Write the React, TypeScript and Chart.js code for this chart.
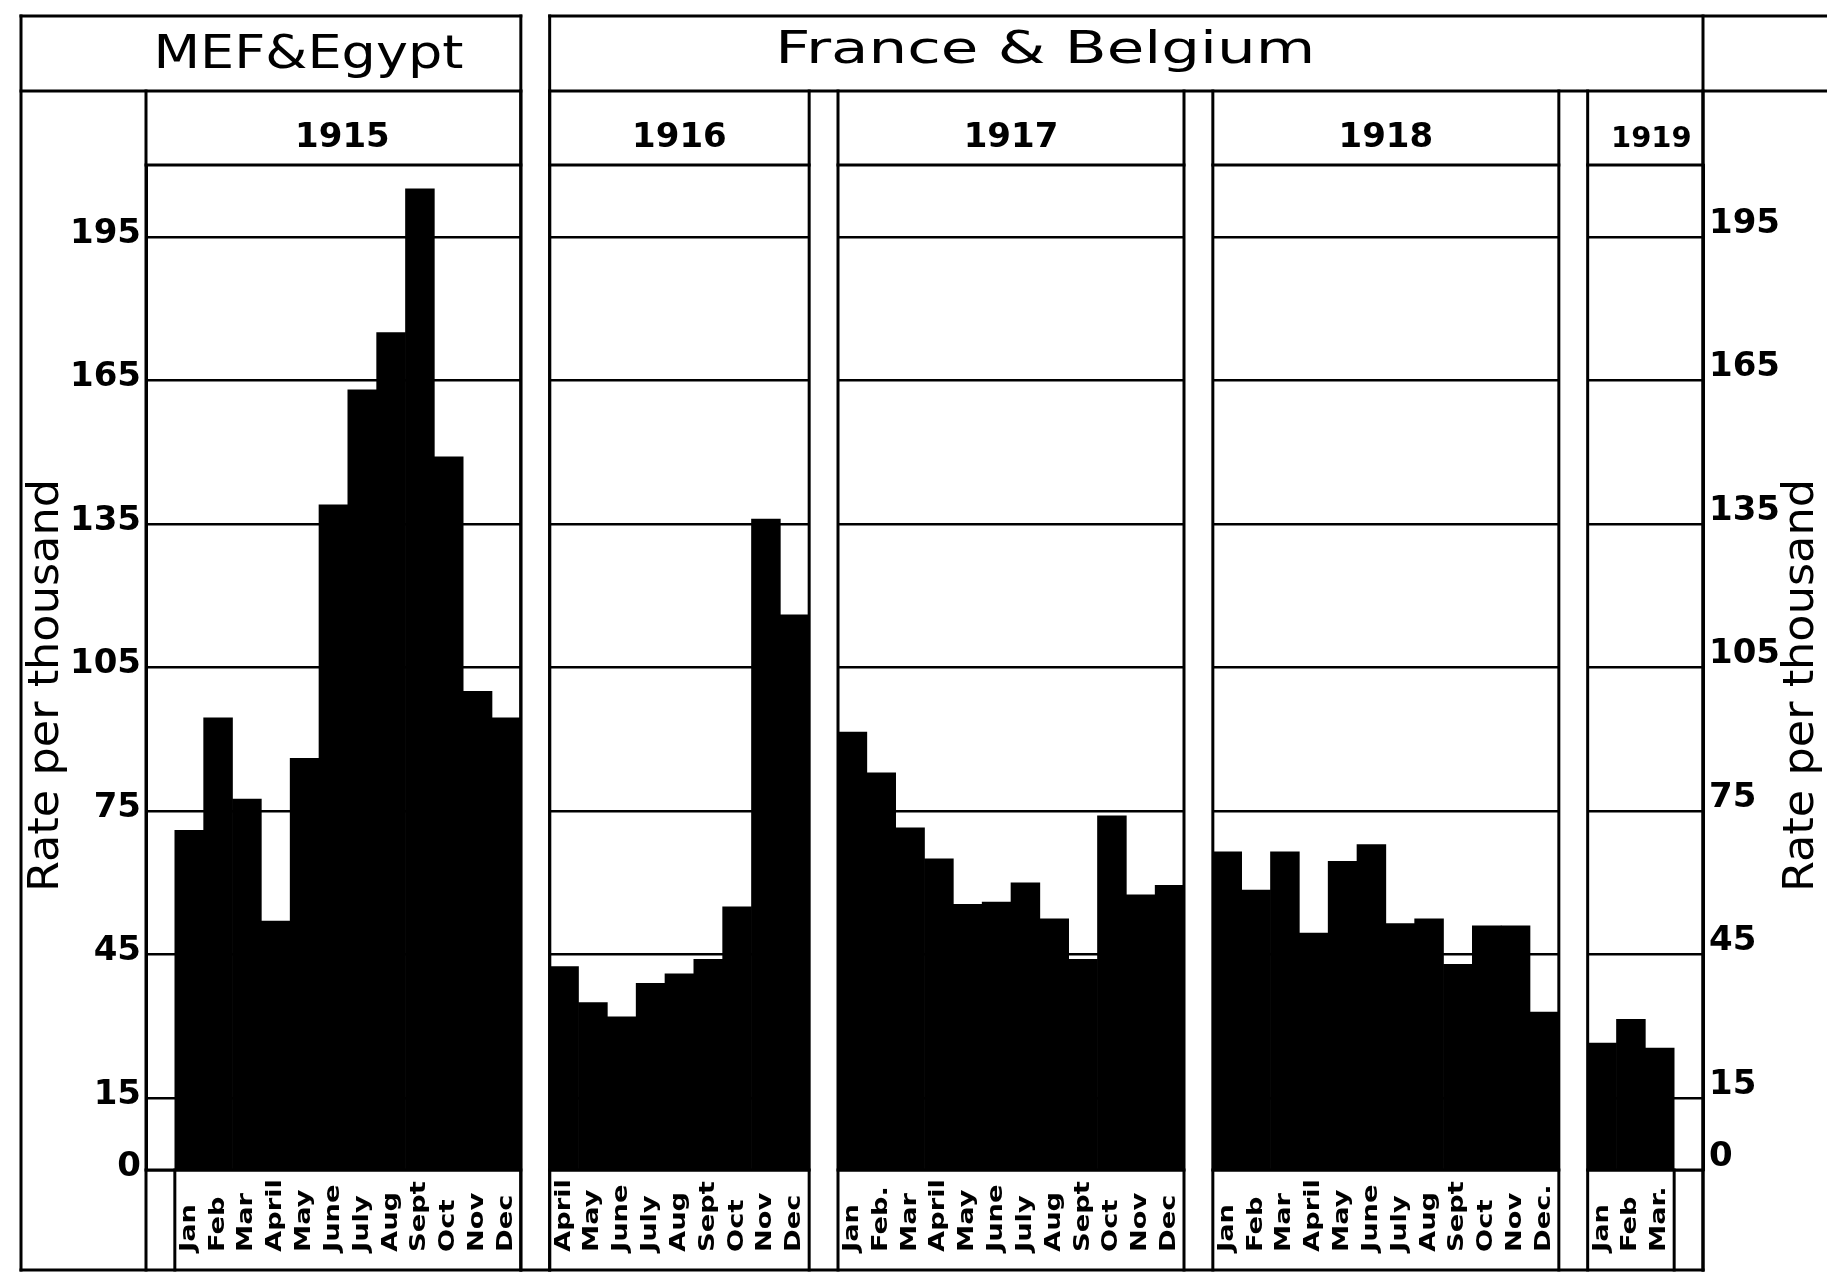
import React, { useEffect, useRef } from 'react';
import { Chart, registerables } from 'chart.js';

Chart.register(...registerables);

const FONT = '"DejaVu Sans", "Liberation Sans", sans-serif';

// ---- data ----
const months1915 = ['Jan', 'Feb', 'Mar', 'April', 'May', 'June', 'July', 'Aug', 'Sept', 'Oct', 'Nov', 'Dec'];
const rates1915 = [71, 94.5, 77.5, 52, 86, 139, 163, 175, 205, 149, 100, 94.5];

const months1916 = ['April', 'May', 'June', 'July', 'Aug', 'Sept', 'Oct', 'Nov', 'Dec'];
const rates1916 = [42.5, 35, 32, 39, 41, 44, 55, 136, 116];

const months1917 = ['Jan', 'Feb.', 'Mar', 'April', 'May', 'June', 'July', 'Aug', 'Sept', 'Oct', 'Nov', 'Dec'];
const rates1917 = [91.5, 83, 71.5, 65, 55.5, 56, 60, 52.5, 44, 74, 57.5, 59.5];

const months1918 = ['Jan', 'Feb', 'Mar', 'April', 'May', 'June', 'July', 'Aug', 'Sept', 'Oct', 'Nov', 'Dec.'];
const rates1918 = [66.5, 58.5, 66.5, 49.5, 64.5, 68, 51.5, 52.5, 43, 51, 51, 33];

const months1919 = ['Jan', 'Feb', 'Mar.'];
const rates1919 = [26.5, 31.5, 25.5];

const yearLabels = ['1915', '1916', '1917', '1918', '1919'];
const regionLabels = ['MEF&Egypt', 'France & Belgium'];
const yTickValues = [0, 15, 45, 75, 105, 135, 165, 195];
const Y_MAX = 210;
const AXIS_TITLE = 'Rate per thousand';

// panel structure: leading / trailing empty slots in the year panels
const panelDefs = [
  { year: yearLabels[0], months: months1915, rates: rates1915, lead: 1, trail: 0 },
  { year: yearLabels[1], months: months1916, rates: rates1916, lead: 0, trail: 0 },
  { year: yearLabels[2], months: months1917, rates: rates1917, lead: 0, trail: 0 },
  { year: yearLabels[3], months: months1918, rates: rates1918, lead: 0, trail: 0 },
  { year: yearLabels[4], months: months1919, rates: rates1919, lead: 0, trail: 1 },
];

const slotLabels: string[] = [];
const slotValues: (number | null)[] = [];
const gapSlots: number[] = [];
const panelRanges: { start: number; end: number; year: string; lead: number; trail: number }[] = [];

panelDefs.forEach((p, pi) => {
  if (pi > 0) {
    gapSlots.push(slotLabels.length);
    slotLabels.push('');
    slotValues.push(null);
  }
  const start = slotLabels.length;
  for (let k = 0; k < p.lead; k++) { slotLabels.push(''); slotValues.push(null); }
  p.months.forEach((m, j) => { slotLabels.push(m); slotValues.push(p.rates[j]); });
  for (let k = 0; k < p.trail; k++) { slotLabels.push(''); slotValues.push(null); }
  panelRanges.push({ start, end: slotLabels.length, year: p.year, lead: p.lead, trail: p.trail });
});

function drawText(
  ctx: CanvasRenderingContext2D,
  text: string,
  x: number,
  y: number,
  font: string,
  opts: { align?: CanvasTextAlign; baseline?: CanvasTextBaseline; rotate?: number; width?: number; stretch?: number } = {}
) {
  const { align = 'center', baseline = 'alphabetic', rotate = 0, width, stretch } = opts;
  ctx.save();
  ctx.font = font;
  let sx = stretch ?? 1;
  if (width) sx = width / ctx.measureText(text).width;
  ctx.translate(x, y);
  if (rotate) ctx.rotate(rotate);
  ctx.scale(sx, 1);
  ctx.textAlign = align;
  ctx.textBaseline = baseline;
  ctx.fillStyle = '#000';
  ctx.fillText(text, 0, 0);
  ctx.restore();
}

const framePlugin = {
  id: 'frames',
  beforeDatasetsDraw(chart: any) {
    const { ctx, chartArea: a } = chart;
    const w = (a.right - a.left) / slotLabels.length;
    ctx.save();
    ctx.fillStyle = '#fff';
    gapSlots.forEach((g) => ctx.fillRect(a.left + g * w, a.top - 3, w, a.bottom - a.top + 6));
    ctx.restore();
  },
  afterDraw(chart: any) {
    const { ctx, chartArea: a } = chart;
    const xScale = chart.scales.x;
    const n = slotLabels.length;
    const w = (a.right - a.left) / n;
    const b = (i: number) => a.left + i * w;
    const LEFT = 21, TOP = 16, ROW1 = 91, BOT = 1270, RIGHT = chart.width;

    ctx.save();
    ctx.strokeStyle = '#000';
    ctx.lineWidth = 3;
    ctx.lineCap = 'square';
    const seg = (x1: number, y1: number, x2: number, y2: number) => {
      ctx.beginPath();
      ctx.moveTo(x1, y1);
      ctx.lineTo(x2, y2);
      ctx.stroke();
    };
    const first = panelRanges[0];
    const fr = panelRanges[1];
    const last = panelRanges[panelRanges.length - 1];

    // region boxes
    seg(LEFT, TOP, LEFT, BOT);
    seg(LEFT, TOP, b(first.end), TOP);
    seg(LEFT, ROW1, b(first.end), ROW1);
    seg(b(first.end), TOP, b(first.end), BOT);
    seg(b(fr.start), TOP, RIGHT, TOP);
    seg(b(fr.start), ROW1, RIGHT, ROW1);
    seg(b(fr.start), TOP, b(fr.start), BOT);
    seg(b(last.end), TOP, b(last.end), BOT);
    seg(LEFT, BOT, b(last.end), BOT);

    // year panels
    panelRanges.forEach((p) => {
      seg(b(p.start), ROW1, b(p.start), BOT);
      seg(b(p.end), ROW1, b(p.end), BOT);
      seg(b(p.start), a.top, b(p.end), a.top);
      seg(b(p.start), a.bottom, b(p.end), a.bottom);
      if (p.lead) seg(b(p.start + p.lead), a.bottom, b(p.start + p.lead), BOT);
      if (p.trail) seg(b(p.end - p.trail), a.bottom, b(p.end - p.trail), BOT);
    });
    ctx.restore();

    // region titles
    drawText(ctx, regionLabels[0], (b(first.start) + b(first.end)) / 2 - 25, 68, `46px ${FONT}`, { width: 310 });
    drawText(ctx, regionLabels[1], (b(fr.start) + b(panelRanges[3].end)) / 2 - 9, 63, `44px ${FONT}`, { width: 540 });

    // year titles
    panelRanges.forEach((p, i) => {
      const small = p.end - p.start < 6;
      const size = small ? 29 : 34;
      const dx = i === 0 ? 9 : small ? 6 : 0;
      drawText(ctx, p.year, (b(p.start) + b(p.end)) / 2 + dx, 147, `bold ${size}px ${FONT}`);
    });

    // month labels
    slotLabels.forEach((m, i) => {
      if (!m) return;
      const x = xScale.getPixelForValue(i);
      drawText(ctx, m, x, 1252, `bold 21px ${FONT}`, { align: 'left', baseline: 'middle', rotate: -Math.PI / 2, stretch: 1.3 });
    });

    // axis titles
    const cy = (a.top + a.bottom) / 2 + 18;
    drawText(ctx, AXIS_TITLE, 47, cy, `42px ${FONT}`, { baseline: 'middle', rotate: -Math.PI / 2, width: 413 });
    drawText(ctx, AXIS_TITLE, 1802, cy, `42px ${FONT}`, { baseline: 'middle', rotate: -Math.PI / 2, width: 413 });
  },
};

export default function App() {
  const ref = useRef<HTMLCanvasElement>(null);

  useEffect(() => {
    const setTicks = (ax: any) => {
      ax.ticks = yTickValues.map((v) => ({ value: v }));
    };
    const chart = new Chart(ref.current as HTMLCanvasElement, {
      type: 'bar',
      data: {
        labels: slotLabels,
        datasets: [
          {
            data: slotValues,
            backgroundColor: '#000',
            borderWidth: 0,
            barPercentage: 1,
            categoryPercentage: 1,
          },
        ],
      },
      options: {
        responsive: false,
        animation: false,
        layout: { padding: { top: 165, bottom: 102, left: 0, right: 0 } },
        plugins: { legend: { display: false }, tooltip: { enabled: false } },
        scales: {
          x: { display: false, offset: true },
          y: {
            position: 'left',
            min: 0,
            max: Y_MAX,
            afterBuildTicks: setTicks,
            afterFit: (ax: any) => { ax.width = 146; },
            grid: { color: '#000', lineWidth: 2.5, drawTicks: false },
            border: { display: true, color: '#000', width: 3 },
            ticks: { color: '#000', font: { family: FONT, size: 34, weight: 'bold' }, padding: 5, labelOffset: -3 },
          },
          y2: {
            position: 'right',
            min: 0,
            max: Y_MAX,
            afterBuildTicks: setTicks,
            afterFit: (ax: any) => { ax.width = 124; },
            grid: { display: false, drawTicks: false },
            border: { display: true, color: '#000', width: 3 },
            ticks: { color: '#000', font: { family: FONT, size: 34, weight: 'bold' }, padding: 6, labelOffset: -13 },
          },
        },
      } as any,
      plugins: [framePlugin],
    });
    return () => chart.destroy();
  }, []);

  return (
    <div style={{ position: 'fixed', left: 0, top: 0, width: 1827, height: 1272, background: '#fff' }}>
      <canvas ref={ref} width={1827} height={1272} style={{ display: 'block', width: 1827, height: 1272 }} />
    </div>
  );
}
